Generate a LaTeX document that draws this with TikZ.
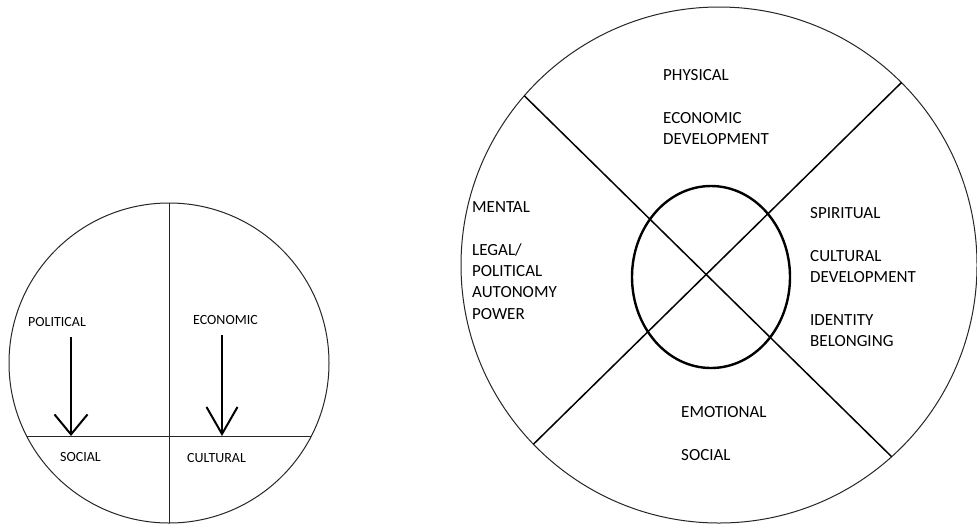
\documentclass[tikz,border=0pt]{standalone}
\usepackage{fontspec}
\setmainfont{Carlito}
\usetikzlibrary{arrows.meta,shapes.geometric}
\begin{document}
\begin{tikzpicture}[x=1pt,y=-1pt,
  ring/.style={circle, draw=black!85, line width=1pt, inner sep=0pt, outer sep=0pt},
  divider/.style={draw=black!85, line width=1pt},
  diag/.style={draw=black, line width=1.5pt},
  lbl/.style={inner sep=0pt, anchor=north west, align=left, text=black, font=\fontsize{17}{21.3}\selectfont},
  slbl/.style={inner sep=0pt, anchor=north west, text=black, font=\fontsize{14}{17}\selectfont},
  arrA/.style={line width=2pt, -{Straight Barb[length=20pt,width=33pt]}},
  arrB/.style={line width=2pt, -{Straight Barb[length=27pt,width=31pt]}}
]
\useasboundingbox (0,0) rectangle (977,523);
\fill[white] (0,0) rectangle (977,523);

% left diagram
\node[ring, minimum size=320pt] (L) at (169,363) {};
\draw[divider] (L.north) -- (L.south);
\coordinate (hl) at (26.6,436);
\coordinate (hr) at (311.4,436);
\draw[divider] (hl) -- (hr);
\node[slbl] (pol) at (28,317.5) {POLITICAL};
\node[slbl] (eco) at (193,315.5) {ECONOMIC};
\node[slbl] (soc) at (60,452.5) {SOCIAL};
\node[slbl] (cul) at (187,453.5) {CULTURAL};
\coordinate (a1s) at (71,337);
\coordinate (a1e) at (71,436);
\coordinate (a2s) at (222,335);
\coordinate (a2e) at (222,436);
\draw[arrA] (a1s) -- (a1e);
\draw[arrB] (a2s) -- (a2e);

% right diagram
\node[ring, minimum size=516pt] (R) at (719,265) {};
\node[ellipse, draw=black, line width=2.4pt, minimum width=158pt, minimum height=182pt, inner sep=0pt, outer sep=0pt] (C) at (711,277) {};
\draw[diag] (R.139.3) -- (R.-48.1);
\draw[diag] (R.45.5) -- (R.224.2);

\node[lbl] (top) at (663,69.5) {PHYSICAL\\[21.3pt]ECONOMIC\\DEVELOPMENT};
\node[lbl] (left) at (472,201.5) {MENTAL\\[21.3pt]LEGAL/\\POLITICAL\\AUTONOMY\\POWER};
\node[lbl] (right) at (810,207.5) {SPIRITUAL\\[21.3pt]CULTURAL\\DEVELOPMENT\\[21.3pt]IDENTITY\\BELONGING};
\node[lbl] (bottom) at (681,406.5) {EMOTIONAL\\[21.3pt]SOCIAL};
\end{tikzpicture}
\end{document}
